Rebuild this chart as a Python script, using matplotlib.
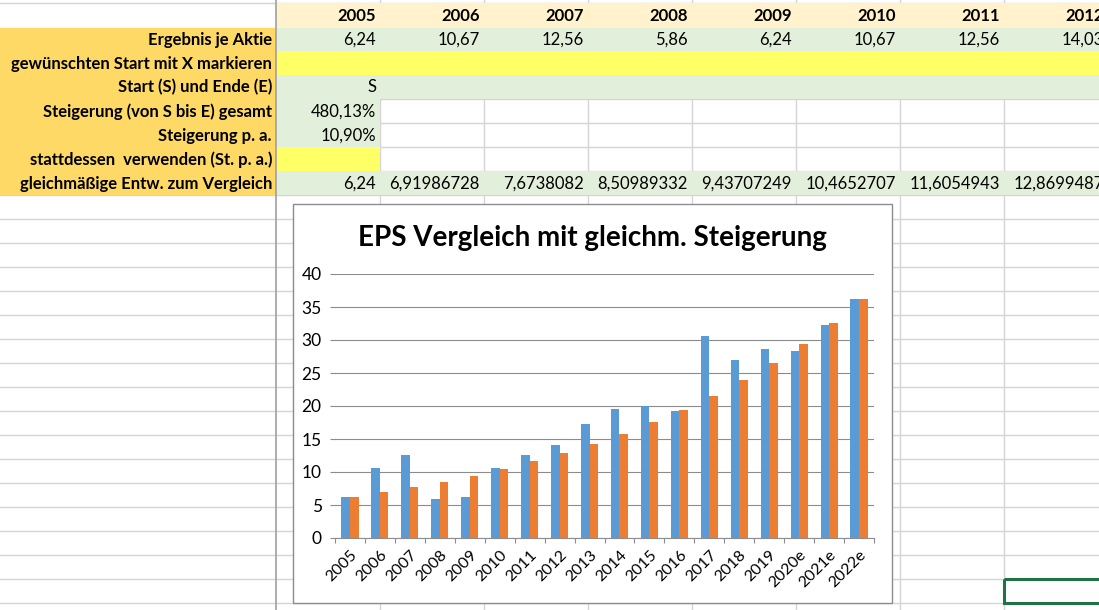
import matplotlib
matplotlib.use("Agg")
import matplotlib.pyplot as plt
import numpy as np
from matplotlib.patches import Rectangle

plt.rcParams['font.family'] = ['Lato', 'DejaVu Sans']

# Tabellendaten
jahre_tabelle = ['2005', '2006', '2007', '2008', '2009', '2010', '2011', '2012']
ergebnis_tabelle = ['6,24', '10,67', '12,56', '5,86', '6,24', '10,67', '12,56', '14,03']
vergleich_tabelle = ['6,24', '6,91986728', '7,6738082', '8,50989332', '9,43707249',
                     '10,4652707', '11,6054943', '12,8699487']
zeilen_labels = ['Ergebnis je Aktie', 'gewünschten Start mit X markieren',
                 'Start (S) und Ende (E)', 'Steigerung (von S bis E) gesamt',
                 'Steigerung p. a.', 'stattdessen  verwenden (St. p. a.)',
                 'gleichmäßige Entw. zum Vergleich']
start_markierung = 'S'
steigerung_gesamt = '480,13%'
steigerung_pa = '10,90%'

# Diagrammdaten
jahre = ['2005', '2006', '2007', '2008', '2009', '2010', '2011', '2012', '2013',
         '2014', '2015', '2016', '2017', '2018', '2019', '2020e', '2021e', '2022e']
eps = [6.24, 10.67, 12.56, 5.86, 6.24, 10.67, 12.56, 14.03, 17.2,
       19.6, 20.0, 19.3, 30.6, 26.9, 28.7, 28.4, 32.2, 36.2]
gleichm = [6.24, 6.92, 7.67, 8.51, 9.44, 10.47, 11.61, 12.87, 14.27,
           15.83, 17.55, 19.46, 21.58, 23.94, 26.54, 29.44, 32.64, 36.2]

W, H = 1099, 610
fig = plt.figure(figsize=(W / 100, H / 100), dpi=100)
bg = fig.add_axes([0, 0, 1, 1])
bg.set_xlim(0, W)
bg.set_ylim(H, 0)
bg.axis('off')

# Raster der Tabelle
col_edges = [0, 276, 380, 484, 588, 692, 796, 900, 1004, 1108]
row_edges = [3, 28] + [51 + 24 * k for k in range(24)]
grid_c = '#d4d4d4'
for y in row_edges:
    bg.plot([0, W], [y, y], color=grid_c, lw=1, zorder=1)
for x in col_edges[2:]:
    bg.plot([x, x], [0, H], color=grid_c, lw=1, zorder=1)
bg.plot([276, 276], [0, H], color='#a0a0a0', lw=1.2, zorder=3)

gold = '#ffd966'
peach = '#fff2cc'
green = '#e2efda'
yellow = '#ffff66'


def cell(c0, c1, r0, r1, color):
    bg.add_patch(Rectangle((col_edges[c0], row_edges[r0]),
                           col_edges[c1] - col_edges[c0],
                           row_edges[r1] - row_edges[r0],
                           facecolor=color, edgecolor='none', zorder=2))


cell(0, 1, 1, 8, gold)
cell(1, 9, 0, 1, peach)
cell(1, 9, 1, 2, green)
cell(1, 9, 2, 3, yellow)
cell(1, 9, 3, 4, green)
cell(1, 2, 4, 5, green)
cell(1, 2, 5, 6, green)
cell(1, 2, 6, 7, yellow)
cell(1, 9, 7, 8, green)

fs = 12


def ymid(r):
    return (row_edges[r] + row_edges[r + 1]) / 2 + 0.5


for r, lab in enumerate(zeilen_labels, start=1):
    bg.text(272, ymid(r), lab, ha='right', va='center', fontsize=fs,
            fontweight='bold', zorder=4)

for i, j in enumerate(jahre_tabelle):
    xr = col_edges[i + 2] - 4
    bg.text(xr, ymid(0), j, ha='right', va='center', fontsize=fs,
            fontweight='bold', zorder=4)
    bg.text(xr, ymid(1), ergebnis_tabelle[i], ha='right', va='center',
            fontsize=fs, zorder=4)
    bg.text(xr, ymid(7), vergleich_tabelle[i], ha='right', va='center',
            fontsize=fs, zorder=4)

xr0 = col_edges[2] - 4
bg.text(xr0, ymid(3), start_markierung, ha='right', va='center', fontsize=fs, zorder=4)
bg.text(xr0, ymid(4), steigerung_gesamt, ha='right', va='center', fontsize=fs, zorder=4)
bg.text(xr0, ymid(5), steigerung_pa, ha='right', va='center', fontsize=fs, zorder=4)

# aktive Zelle
bg.add_patch(Rectangle((1004, 579), 100, 24, facecolor='none',
                       edgecolor='#217346', lw=2.2, zorder=5))

# Diagrammrahmen
bg.add_patch(Rectangle((293, 204), 599, 399, facecolor='white',
                       edgecolor='#8c8c8c', lw=1, zorder=6))
bg.text(592, 238, 'EPS Vergleich mit gleichm. Steigerung', ha='center',
        va='center', fontsize=20, fontweight='bold', zorder=7)

# Diagramm
px0, px1 = 335, 874
py0, py1 = 538, 274
ax = fig.add_axes([px0 / W, 1 - py0 / H, (px1 - px0) / W, (py0 - py1) / H])
ax.set_zorder(10)
ax.patch.set_alpha(0)

x = np.arange(len(jahre))
bw = 1 / 3.5
ax.bar(x - bw / 2, eps, width=bw, color='#5b9bd5', zorder=3)
ax.bar(x + bw / 2, gleichm, width=bw, color='#ed7d31', zorder=3)

ax.set_xlim(-0.5, len(jahre) - 0.5)
ax.set_ylim(0, 40)
ax.set_yticks(np.arange(0, 41, 5))
ax.yaxis.grid(True, color='#8c8c8c', lw=0.8)
ax.set_axisbelow(True)
for s in ['left', 'right', 'top']:
    ax.spines[s].set_visible(False)
ax.spines['bottom'].set_color('#8c8c8c')
ax.spines['bottom'].set_linewidth(0.8)

ax.set_xticks(x)
ax.set_xticklabels(jahre, rotation=45, ha='right', rotation_mode='anchor',
                   fontsize=11.5)
ax.set_xticks(np.arange(-0.5, len(jahre), 1), minor=True)
ax.tick_params(axis='x', which='major', length=0, pad=7)
ax.tick_params(axis='x', which='minor', length=3.6, color='#8c8c8c', width=0.8)
ax.tick_params(axis='y', length=3.6, color='#8c8c8c', width=0.8, labelsize=12.5, pad=6)

fig.savefig('out.png', dpi=100)
